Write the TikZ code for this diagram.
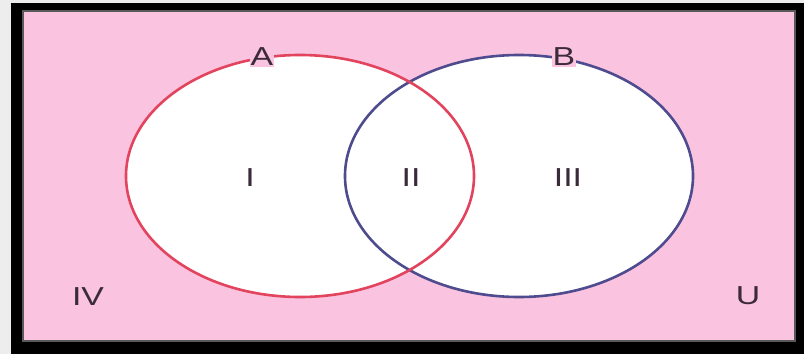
\documentclass[tikz,border=0pt]{standalone}
\usepackage{fontspec}
\setmainfont{Liberation Sans}
\usepackage{graphicx}
\definecolor{bgpink}{HTML}{FAC3E0}
\definecolor{redline}{HTML}{E2445E}
\definecolor{blueline}{HTML}{4E4C8E}
\definecolor{txt}{HTML}{3A2A3A}
\definecolor{outer}{HTML}{EDEDED}
\tikzset{
  lbl/.style={text=txt, font=\fontsize{26}{26}\selectfont, inner sep=1pt},
  setA/.style={draw=redline, line width=2.6pt},
  setB/.style={draw=blueline, line width=2.6pt},
}
\newcommand{\widetxt}[1]{\scalebox{1.3}[1]{#1}}
\begin{document}
\begin{tikzpicture}[x=1pt,y=-1pt]
\useasboundingbox (0,0) rectangle (804,354);
\fill[outer] (0,0) rectangle (804,354);
\fill[black] (11,3) rectangle (804,354);
\fill[bgpink,draw=gray!70!black,line width=1.2pt] (23,11) rectangle (795,341);
% ellipses
\fill[white] (300,176) ellipse [x radius=174, y radius=121];
\fill[white] (519,176) ellipse [x radius=174, y radius=121];
\draw[setB] (519,176) ellipse [x radius=174, y radius=121];
\draw[setA] (300,176) ellipse [x radius=174, y radius=121];
% labels
\node[lbl, fill=bgpink] (A) at (262,57) {\widetxt{A}};
\node[lbl, fill=bgpink] (B) at (564,57) {\widetxt{B}};
\node[lbl] (r1) at (250,178) {\widetxt{I}};
\node[lbl] (r2) at (411,178) {\widetxt{II}};
\node[lbl] (r3) at (568,178) {\widetxt{III}};
\node[lbl] (r4) at (88,297) {\widetxt{IV}};
\node[lbl] (U) at (748,296) {\widetxt{U}};
\end{tikzpicture}
\end{document}
